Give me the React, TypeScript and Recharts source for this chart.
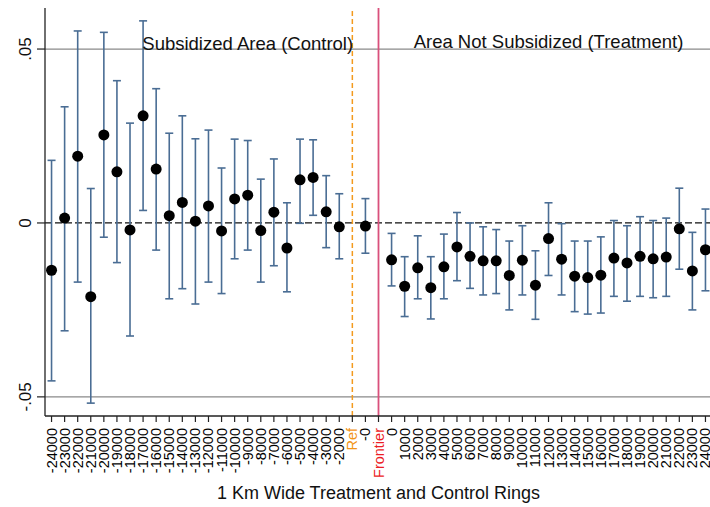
import { ComposedChart, Line, ErrorBar, XAxis, YAxis, ReferenceLine, ReferenceDot } from 'recharts';

const rings = [
  '-24000', '-23000', '-22000', '-21000', '-20000', '-19000', '-18000', '-17000',
  '-16000', '-15000', '-14000', '-13000', '-12000', '-11000', '-10000', '-9000',
  '-8000', '-7000', '-6000', '-5000', '-4000', '-3000', '-2000',
  'Ref', '-0', 'Frontier',
  '0', '1000', '2000', '3000', '4000', '5000', '6000', '7000', '8000', '9000',
  '10000', '11000', '12000', '13000', '14000', '15000', '16000', '17000', '18000',
  '19000', '20000', '21000', '22000', '23000', '24000',
];

const coef = [
  -0.0136, 0.0014, 0.0192, -0.0212, 0.0253, 0.0147, -0.0020, 0.0308,
  0.0155, 0.0021, 0.0059, 0.0005, 0.0049, -0.0023, 0.0069, 0.0080,
  -0.0022, 0.0031, -0.0072, 0.0124, 0.0131, 0.0032, -0.0011,
  null, -0.0009, null,
  -0.0106, -0.0182, -0.0129, -0.0186, -0.0126, -0.0069, -0.0096, -0.0109, -0.0109, -0.0151,
  -0.0107, -0.0179, -0.0045, -0.0104, -0.0153, -0.0157, -0.0150, -0.0101, -0.0115,
  -0.0096, -0.0103, -0.0098, -0.0017, -0.0138, -0.0077,
];

const ciLow = [
  -0.0454, -0.0310, -0.0170, -0.0518, -0.0041, -0.0114, -0.0325, 0.0036,
  -0.0078, -0.0218, -0.0189, -0.0233, -0.0170, -0.0203, -0.0103, -0.0078,
  -0.0170, -0.0123, -0.0198, -0.0001, 0.0022, -0.0071, -0.0103,
  null, -0.0087, null,
  -0.0181, -0.0269, -0.0218, -0.0276, -0.0218, -0.0166, -0.0188, -0.0207, -0.0203, -0.0250,
  -0.0207, -0.0277, -0.0151, -0.0207, -0.0255, -0.0262, -0.0259, -0.0211, -0.0225,
  -0.0211, -0.0215, -0.0211, -0.0133, -0.0250, -0.0195,
];

const ciHigh = [
  0.0180, 0.0334, 0.0552, 0.0099, 0.0548, 0.0409, 0.0287, 0.0581,
  0.0386, 0.0258, 0.0308, 0.0242, 0.0267, 0.0158, 0.0241, 0.0237,
  0.0126, 0.0184, 0.0058, 0.0241, 0.0239, 0.0136, 0.0084,
  null, 0.0070, null,
  -0.0030, -0.0097, -0.0037, -0.0097, -0.0032, 0.0030, 0.0000, -0.0011, -0.0019, -0.0052,
  -0.0008, -0.0080, 0.0058, -0.0002, -0.0052, -0.0052, -0.0040, 0.0007, -0.0008,
  0.0018, 0.0007, 0.0014, 0.0100, -0.0027, 0.0040,
];

const yTicks = [-0.05, 0, 0.05];

// ErrorBar wants [below, above] distances from the point
const data = rings.map((label, i) => {
  const c = coef[i];
  const lo = ciLow[i];
  const hi = ciHigh[i];
  return {
    label,
    coef: c,
    err: c == null || lo == null || hi == null ? undefined : [c - lo, hi - c],
  };
});

const REF_LINE = '#f39a1e';
const REF_TEXT = '#f29418';
const FRONTIER_LINE = '#d9507c';
const FRONTIER_TEXT = '#ec1c24';
const BAR_COLOR = '#4a6d94';

const fmtY = (v: number) => (v === 0 ? '0' : v.toFixed(2).replace('0.', '.'));

const XTick = (props: any) => {
  const { x, y, payload } = props;
  const v = payload.value;
  const fill = v === 'Ref' ? REF_TEXT : v === 'Frontier' ? FRONTIER_TEXT : '#000';
  const tx = x + 5;
  const ty = y + 4;
  return (
    <text x={tx} y={ty} transform={`rotate(-90, ${tx}, ${ty})`} textAnchor="end" fontSize={14.5} fill={fill}>
      {v}
    </text>
  );
};

const YTick = (props: any) => {
  const { x, y, payload } = props;
  const tx = x - 4;
  return (
    <text x={tx} y={y} transform={`rotate(-90, ${tx}, ${y})`} textAnchor="middle" fontSize={17} fill="#111">
      {fmtY(payload.value)}
    </text>
  );
};

const areaText = (text: string, dy: number) => (props: any) => (
  <text x={props.cx} y={props.cy + dy} textAnchor="middle" fontSize={18.5} fill="#111">
    {text}
  </text>
);

export default function App() {
  return (
    <div
      style={{
        position: 'absolute',
        left: 0,
        top: 0,
        width: 710,
        height: 507,
        overflow: 'hidden',
        background: '#fff',
        fontFamily: '"Liberation Sans", Arial, sans-serif',
      }}
    >
      <ComposedChart width={712} height={507} data={data} margin={{ top: 8, right: 0, left: 0, bottom: 0 }}>
        <XAxis
          dataKey="label"
          type="category"
          scale="band"
          interval={0}
          height={91}
          tick={<XTick />}
          tickSize={6}
          tickLine={{ stroke: '#222', strokeWidth: 1.2 }}
          axisLine={{ stroke: '#222', strokeWidth: 1.3 }}
          label={{ value: '1 Km Wide Treatment and Control Rings', position: 'insideBottom', offset: 8, fontSize: 18, fill: '#111' }}
        />
        <YAxis
          type="number"
          width={45}
          domain={[-0.0555, 0.0618]}
          allowDataOverflow
          ticks={yTicks}
          tick={<YTick />}
          tickSize={8}
          tickLine={{ stroke: '#222', strokeWidth: 1.2 }}
          axisLine={{ stroke: '#222', strokeWidth: 1.3 }}
        />
        <ReferenceLine y={0.05} stroke="#8a8a8a" strokeWidth={1.2} />
        <ReferenceLine y={-0.05} stroke="#8a8a8a" strokeWidth={1.2} />
        <ReferenceLine y={0} stroke="#111" strokeWidth={1.2} strokeDasharray="7 3" />
        <ReferenceLine x="Ref" stroke={REF_LINE} strokeWidth={1.5} strokeDasharray="5 3" />
        <ReferenceLine x="Frontier" stroke={FRONTIER_LINE} strokeWidth={1.8} />
        <ReferenceDot x="-9000" y={0.05} r={0} shape={areaText('Subsidized Area (Control)', 1)} />
        <ReferenceDot x="12000" y={0.05} r={0} shape={areaText('Area Not Subsidized (Treatment)', -1.5)} />
        <Line
          dataKey="coef"
          stroke="none"
          dot={{ r: 5.5, fill: '#000', stroke: 'none' }}
          activeDot={false}
          isAnimationActive={false}
        >
          <ErrorBar dataKey="err" direction="y" width={4} stroke={BAR_COLOR} strokeWidth={1.6} />
        </Line>
      </ComposedChart>
    </div>
  );
}
